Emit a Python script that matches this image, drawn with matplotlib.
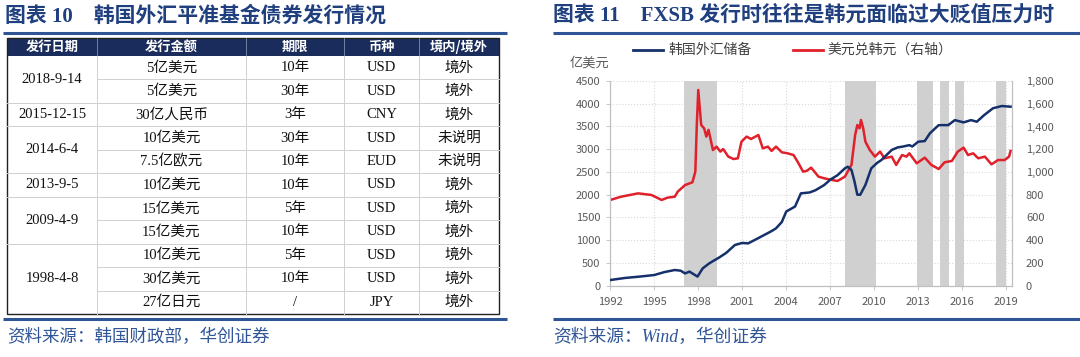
import numpy as np
import matplotlib
matplotlib.use("Agg")
import matplotlib.pyplot as plt
from matplotlib.patches import Rectangle

plt.rcParams['font.family'] = ['Noto Sans CJK SC', 'DejaVu Sans']

# ------------------------------------------------------------------
# table data (left panel)
# ------------------------------------------------------------------
header = ["发行日期", "发行金额", "期限", "币种", "境内/境外"]
dates = ["2018-9-14", "2015-12-15", "2014-6-4", "2013-9-5", "2009-4-9", "1998-4-8"]
date_spans = [2, 1, 2, 1, 2, 3]
amounts = ["5亿美元", "5亿美元", "30亿人民币", "10亿美元", "7.5亿欧元", "10亿美元",
           "15亿美元", "15亿美元", "10亿美元", "30亿美元", "27亿日元"]
terms = ["10年", "30年", "3年", "30年", "10年", "10年", "5年", "10年", "5年", "10年", "/"]
currencies = ["USD", "USD", "CNY", "USD", "EUD", "USD", "USD", "USD", "USD", "USD", "JPY"]
onshore = ["境外", "境外", "境外", "未说明", "未说明", "境外", "境外", "境外", "境外", "境外", "境外"]

# ------------------------------------------------------------------
# chart data (right panel)
# ------------------------------------------------------------------
fx_years = [1992.0, 1993.0, 1994.0, 1995.0, 1995.7, 1996.4, 1996.8, 1997.1, 1997.4, 1997.7,
            1997.95, 1998.3, 1998.7, 1999.0, 1999.4, 1999.9, 2000.5, 2001.0, 2001.4, 2002.0,
            2002.5, 2003.0, 2003.3, 2003.7, 2004.0, 2004.6, 2005.0, 2005.6, 2006.0, 2006.6,
            2007.0, 2007.5, 2008.0, 2008.2, 2008.45, 2008.65, 2008.85, 2009.05, 2009.4, 2009.8,
            2010.2, 2010.5, 2011.2, 2011.6, 2011.9, 2012.4, 2012.6, 2013.0, 2013.45, 2013.8,
            2014.4, 2015.05, 2015.5, 2016.1, 2016.6, 2017.0, 2017.5, 2018.1, 2018.7, 2019.3]
fx_reserves = [125, 170, 200, 235, 300, 345, 330, 270, 310, 250,
               200, 380, 480, 540, 615, 720, 895, 940, 930, 1030,
               1115, 1200, 1260, 1400, 1630, 1740, 2030, 2050, 2100, 2215,
               2330, 2430, 2580, 2615, 2545, 2300, 2000, 2000, 2215, 2580,
               2700, 2765, 2985, 3040, 3055, 3090, 3060, 3165, 3180, 3350,
               3530, 3530, 3640, 3590, 3640, 3605, 3750, 3900, 3950, 3935]

krw_years = [1992.0, 1992.75, 1993.9, 1994.8, 1995.5, 1995.9, 1996.4, 1996.6, 1997.1, 1997.6,
             1997.8, 1997.9, 1998.0, 1998.2, 1998.4, 1998.55, 1998.7, 1998.8, 1999.0, 1999.25,
             1999.5, 1999.7, 2000.05, 2000.4, 2000.7, 2000.95, 2001.3, 2001.6, 2002.1, 2002.4,
             2002.75, 2003.0, 2003.3, 2003.7, 2004.1, 2004.5, 2004.8, 2005.15, 2005.4, 2005.7,
             2006.2, 2006.6, 2007.1, 2007.5, 2008.0, 2008.45, 2008.7, 2008.85, 2009.0, 2009.1,
             2009.25, 2009.4, 2009.7, 2010.05, 2010.4, 2010.7, 2011.2, 2011.5, 2011.9, 2012.2,
             2012.4, 2012.9, 2013.45, 2013.9, 2014.4, 2014.8, 2015.3, 2015.7, 2016.1, 2016.4,
             2016.75, 2017.1, 2017.55, 2018.0, 2018.45, 2018.9, 2019.2, 2019.3]
usd_krw = [754, 783, 812, 798, 754, 774, 783, 827, 885, 909,
           1003, 1413, 1721, 1413, 1384, 1311, 1370, 1311, 1193, 1223,
           1179, 1202, 1135, 1114, 1120, 1267, 1311, 1290, 1325, 1208,
           1223, 1185, 1223, 1173, 1164, 1149, 1085, 1003, 1010, 1038,
           959, 944, 930, 921, 959, 1062, 1325, 1413, 1384, 1457,
           1384, 1267, 1193, 1135, 1179, 1120, 1135, 1062, 1149, 1135,
           1164, 1076, 1126, 1062, 1026, 1085, 1097, 1179, 1214, 1149,
           1164, 1120, 1135, 1067, 1105, 1105, 1135, 1185]

shade_start = [1997.05, 2008.0, 2012.95, 2014.5, 2015.5, 2018.3]
shade_end = [1999.27, 2010.14, 2014.0, 2015.1, 2016.1, 2018.98]

xtick_years = [1992, 1995, 1998, 2001, 2004, 2007, 2010, 2013, 2016, 2019]

# ------------------------------------------------------------------
# figure + pixel canvas
# ------------------------------------------------------------------
W, H = 1080, 357
fig = plt.figure(figsize=(W / 100, H / 100), dpi=100)
bg = fig.add_axes([0, 0, 1, 1])
bg.set_xlim(0, W)
bg.set_ylim(H, 0)
bg.axis('off')

title_c = '#1f3f7f'
rule_c = '#2f5597'
navy = '#1a2c5b'
serif = ['Liberation Serif', 'Noto Sans CJK SC']

# titles and rules
bg.text(5, 16, "图表 10    韩国外汇平准基金债券发行情况", fontsize=15, fontweight='bold',
        color=title_c, va='center', ha='left', family=serif)
bg.text(553, 16, "图表 11    FXSB 发行时往往是韩元面临过大贬值压力时", fontsize=15, fontweight='bold',
        color=title_c, va='center', ha='left', family=serif)
for x0, x1 in [(3, 507), (553, 1080)]:
    bg.plot([x0, x1], [33, 33], color=rule_c, lw=2.2, solid_capstyle='butt')
    bg.plot([x0, x1], [319, 319], color=rule_c, lw=2.2, solid_capstyle='butt')

bg.text(7, 337, "资料来源：韩国财政部，华创证券", fontsize=12.6, style='italic',
        color=rule_c, va='center', ha='left')
bg.text(553, 337, "资料来源：Wind，华创证券", fontsize=12.8, style='italic',
        color=rule_c, va='center', ha='left', family=serif)

# ------------------------------------------------------------------
# table
# ------------------------------------------------------------------
col_x = [7, 97, 246, 344, 419, 499]
head_top, head_bot = 38, 56
row_h = (314 - head_bot) / 11
n_rows = len(amounts)
grid_c = '#d0d0d0'

bg.add_patch(Rectangle((col_x[0], head_top), col_x[-1] - col_x[0], head_bot - head_top,
                       facecolor=navy, edgecolor='none'))
for i, h in enumerate(header):
    cx = (col_x[i] + col_x[i + 1]) / 2
    bg.text(cx, (head_top + head_bot) / 2, h, color='white', fontsize=9.5, fontweight='bold',
            ha='center', va='center')
    if i > 0:
        bg.plot([col_x[i], col_x[i]], [head_top, head_bot], color='#8090b0', lw=0.6)

# row lines (the date column is merged inside each group)
group_edges = np.cumsum(date_spans)
for r in range(1, n_rows):
    y = head_bot + r * row_h
    x_start = col_x[0] if r in group_edges else col_x[1]
    bg.plot([x_start, col_x[-1]], [y, y], color=grid_c, lw=0.7)
for c in range(1, 5):
    bg.plot([col_x[c], col_x[c]], [head_bot, head_bot + n_rows * row_h], color=grid_c, lw=0.7)

# body text
r0 = 0
for d, s in zip(dates, date_spans):
    yc = head_bot + (r0 + s / 2) * row_h
    bg.text((col_x[0] + col_x[1]) / 2, yc, d, fontsize=10.5, ha='center', va='center',
            family=serif, color='#111111')
    r0 += s
for r in range(n_rows):
    yc = head_bot + (r + 0.5) * row_h
    for c, vals in enumerate([amounts, terms, currencies, onshore], start=1):
        bg.text((col_x[c] + col_x[c + 1]) / 2, yc, vals[r], fontsize=10.5, ha='center',
                va='center', family=serif, color='#111111')

bg.add_patch(Rectangle((col_x[0], head_top), col_x[-1] - col_x[0],
                       head_bot + n_rows * row_h - head_top,
                       facecolor='none', edgecolor='#222222', lw=1.0))

# ------------------------------------------------------------------
# chart
# ------------------------------------------------------------------
ax_l, ax_r, ax_t, ax_b = 610.3, 1012, 81, 285.7
ax = fig.add_axes([ax_l / W, (H - ax_b) / H, (ax_r - ax_l) / W, (ax_b - ax_t) / H])
ax2 = ax.twinx()

blue = '#16306b'
red = '#e0202a'
tick_c = '#595959'

# grid + shading live on the right-axis layer (its 200 steps sit on the same rows as 500)
ax2.xaxis.set_visible(True)
ax2.tick_params(axis='x', labelbottom=False, labeltop=False, length=0)
ax2.grid(True, color='#d9d9d9', ls=':', lw=0.8, zorder=0)
ax2.set_axisbelow(True)
for s0, s1 in zip(shade_start, shade_end):
    ax2.axvspan(s0, s1, color='#d0d0d0', lw=0, zorder=1)
ax2.plot(krw_years, usd_krw, color=red, lw=1.8, zorder=3)

ax.plot(fx_years, fx_reserves, color=blue, lw=1.8, zorder=4)

ax.set_xlim(1992, 2019.4)
ax.set_ylim(0, 4500)
ax.set_yticks(np.arange(0, 4501, 500))
ax2.set_ylim(0, 1800)
ax2.set_yticks(np.arange(0, 1801, 200))
ax2.set_yticklabels([f"{v:,}" for v in range(0, 1801, 200)])
ax.set_xticks(xtick_years)
ax.set_xticklabels([str(y) for y in xtick_years])
ax.grid(False)

for a in (ax, ax2):
    a.spines['top'].set_visible(False)
    for sp in ('left', 'right', 'bottom'):
        a.spines[sp].set_color('#bfbfbf')
ax.tick_params(colors=tick_c, labelsize=8, length=3, width=0.6)
ax.tick_params(axis='both', color='#bfbfbf')
ax2.tick_params(axis='y', colors=tick_c, labelsize=8, length=0, pad=10)
ax.tick_params(axis='y', pad=4)
ax.tick_params(axis='x', pad=5)

# blue line on top of the red one
ax.set_zorder(ax2.get_zorder() + 1)
ax.patch.set_visible(False)

# legend / unit label
bg.plot([633, 663], [50, 50], color=blue, lw=2)
bg.text(668, 50, "韩国外汇储备", fontsize=10, color='#404040', va='center', ha='left')
bg.plot([793, 823], [50, 50], color=red, lw=2)
bg.text(827, 50, "美元兑韩元（右轴）", fontsize=10, color='#404040', va='center', ha='left')
bg.text(570, 63, "亿美元", fontsize=9.5, color=tick_c, va='center', ha='left')

fig.savefig("out.png", dpi=100)
